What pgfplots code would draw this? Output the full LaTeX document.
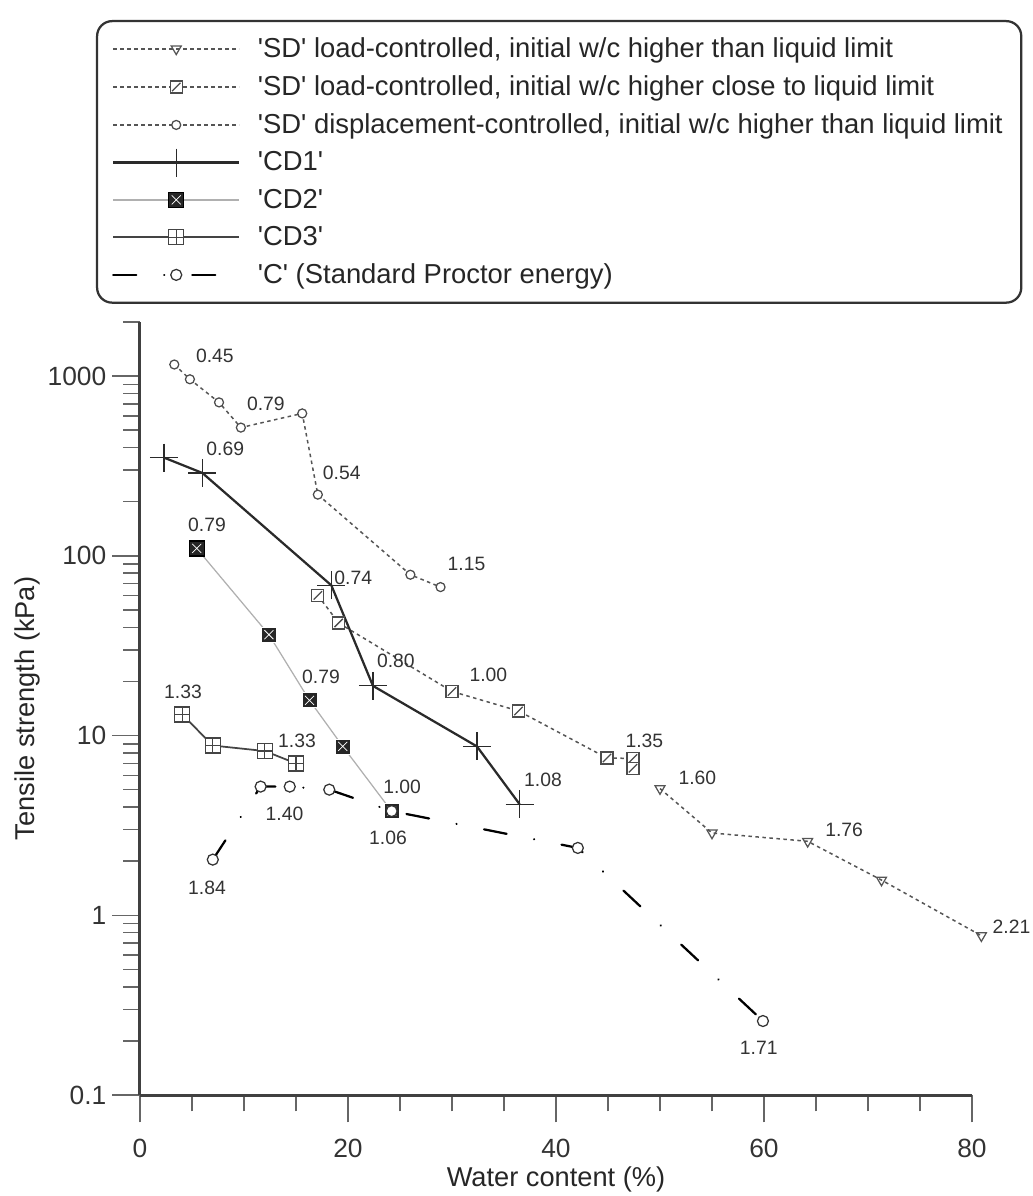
\documentclass[border=0pt]{standalone}
\usepackage{fontspec}
\setmainfont{Liberation Sans}
\usepackage{pgfplots}
\pgfplotsset{compat=1.18}
\usetikzlibrary{plotmarks}

\definecolor{sdc}{HTML}{555555}
\definecolor{cdone}{HTML}{2A2A2A}
\definecolor{cdtwo}{HTML}{B0B0B0}
\definecolor{cdthree}{HTML}{444444}
\definecolor{labc}{HTML}{333333}
\newcommand{\q}{\textquotesingle}

% square with a cross, dark fill
\pgfdeclareplotmark{boxx}{%
  \pgfpathrectangle{\pgfqpoint{-\pgfplotmarksize}{-\pgfplotmarksize}}{\pgfqpoint{2\pgfplotmarksize}{2\pgfplotmarksize}}%
  \pgfusepathqfillstroke
  \pgfsetstrokecolor{white}%
  \pgfsetlinewidth{0.15mm}%
  \pgfpathmoveto{\pgfqpoint{-0.6\pgfplotmarksize}{-0.6\pgfplotmarksize}}%
  \pgfpathlineto{\pgfqpoint{0.6\pgfplotmarksize}{0.6\pgfplotmarksize}}%
  \pgfpathmoveto{\pgfqpoint{-0.6\pgfplotmarksize}{0.6\pgfplotmarksize}}%
  \pgfpathlineto{\pgfqpoint{0.6\pgfplotmarksize}{-0.6\pgfplotmarksize}}%
  \pgfusepathqstroke
}
% square with a plus
\pgfdeclareplotmark{boxplus}{%
  \pgfpathrectangle{\pgfqpoint{-\pgfplotmarksize}{-\pgfplotmarksize}}{\pgfqpoint{2\pgfplotmarksize}{2\pgfplotmarksize}}%
  \pgfusepathqfillstroke
  \pgfpathmoveto{\pgfqpoint{-\pgfplotmarksize}{0pt}}%
  \pgfpathlineto{\pgfqpoint{\pgfplotmarksize}{0pt}}%
  \pgfpathmoveto{\pgfqpoint{0pt}{-\pgfplotmarksize}}%
  \pgfpathlineto{\pgfqpoint{0pt}{\pgfplotmarksize}}%
  \pgfusepathqstroke
}
% square with a slash
\pgfdeclareplotmark{boxslash}{%
  \pgfpathrectangle{\pgfqpoint{-\pgfplotmarksize}{-\pgfplotmarksize}}{\pgfqpoint{2\pgfplotmarksize}{2\pgfplotmarksize}}%
  \pgfusepathqfillstroke
  \pgfpathmoveto{\pgfqpoint{-0.7\pgfplotmarksize}{-0.7\pgfplotmarksize}}%
  \pgfpathlineto{\pgfqpoint{0.7\pgfplotmarksize}{0.7\pgfplotmarksize}}%
  \pgfusepathqstroke
}

\begin{document}
\begin{tikzpicture}
\useasboundingbox (-28mm,-20.2mm) rectangle (178.6mm,219mm);
\begin{axis}[
    at={(0,0)}, anchor=south west,
    scale only axis,
    width=166.4mm, height=154.6mm,
    ymode=log,
    xmin=0, xmax=80, ymin=0.1, ymax=2000,
    axis x line*=bottom, axis y line*=left,
    axis line style={line width=0.6mm, black!75},
    tick align=outside,
    major tick length=5.5mm, minor tick length=3.3mm,
    every tick/.style={line width=0.3mm, black!60},
    xtick={0,20,40,60,80},
    xticklabels={0,20,40,60,80},
    minor xtick={5,10,15,25,30,35,45,50,55,65,70,75},
    ytick={0.1,1,10,100,1000},
    yticklabels={0.1,1,10,100,1000},
    minor ytick={0.2,0.3,0.4,0.5,0.6,0.7,0.8,0.9,2,3,4,5,6,7,8,9,20,30,40,50,60,70,80,90,200,300,400,500,600,700,800,900,2000},
    ticklabel style={font=\fontsize{15}{18}\selectfont, text=black!80},
    xticklabel style={yshift=-2mm},
    label style={font=\fontsize{15.5}{18}\selectfont, text=black!85},
    xlabel={Water content (\%)},
    ylabel={Tensile strength (kPa)},
    xlabel style={at={(axis description cs:0.5,-0.1087)}, anchor=center},
    ylabel style={at={(axis description cs:-0.1358,0.5)}, anchor=center},
    clip=false,
    legend cell align=left,
    legend style={at={(axis description cs:-0.0529,1.3907)}, anchor=north west,
        draw=black!80, line width=0.45mm, rounded corners=3mm,
        font=\fontsize{15.6}{18}\selectfont, text=black!85,
        inner xsep=3mm, inner ysep=2.6mm, row sep=1.7mm},
    legend image code/.code={\draw[mark repeat=2,mark phase=2,#1] plot coordinates {(0mm,0mm) (12.6mm,0mm) (25.2mm,0mm)};
        \path (28mm,0mm);},
    sd/.style={sdc, line width=0.3mm, dash pattern=on 0.7mm off 0.7mm},
]
\addplot[sd, mark=triangle, mark size=1.15mm, mark options={solid, rotate=180, fill=white, draw=sdc, line width=0.25mm}]
  coordinates {(50.0,5.07) (55.0,2.87) (64.2,2.58) (71.3,1.57) (80.9,0.77)};
\addlegendentry{\q SD\q{} load-controlled, initial w/c higher than liquid limit}
\addplot[sd, mark=boxslash, mark size=1.2mm, mark options={solid, fill=white, draw=black!70, line width=0.25mm}]
  coordinates {(17.1,60.3) (19.1,42.3) (30.0,17.6) (36.4,13.7) (44.9,7.5) (47.4,7.46) (47.4,6.58)};
\addlegendentry{\q SD\q{} load-controlled, initial w/c higher close to liquid limit}
\addplot[sd, mark=*, mark size=0.9mm, mark options={solid, fill=white, draw=black!70, line width=0.25mm}]
  coordinates {(3.3,1160) (4.8,960) (7.6,714) (9.7,517) (15.6,620) (17.1,219) (26.0,78.5) (28.9,67)};
\addlegendentry{\q SD\q{} displacement-controlled, initial w/c higher than liquid limit}
\addplot[cdone, line width=0.45mm, mark=+, mark size=2.8mm, mark options={line width=0.25mm}]
  coordinates {(2.3,352) (6.0,289) (18.4,68.5) (22.4,18.9) (32.4,8.7) (36.5,4.15)};
\addlegendentry{\q CD1\q}
\addplot[cdtwo, line width=0.25mm, mark=boxx, mark size=1.5mm, mark options={fill=black!85, draw=black, line width=0.25mm}]
  coordinates {(5.45,110) (12.4,36.4) (16.3,15.7) (19.5,8.7) (24.2,3.79)};
\addlegendentry{\q CD2\q}
\addplot[cdthree, line width=0.35mm, mark=boxplus, mark size=1.5mm, mark options={fill=white, draw=cdthree, line width=0.25mm}]
  coordinates {(4.07,13.1) (6.99,8.8) (12.0,8.2) (15.0,7.0)};
\addlegendentry{\q CD3\q}
\addplot[black, line width=0.45mm, line cap=round, dash pattern=on 4.6mm off 5.6mm on 0.01mm off 5.6mm,
    mark=*, mark size=1.1mm, mark options={solid, fill=white, draw=black!80, line width=0.25mm}]
  coordinates {(7.0,2.04) (11.6,5.2) (14.4,5.2) (18.2,5.0) (24.2,3.8) (42.1,2.37) (59.9,0.258)};
\addlegendentry{\q C\q{} (Standard Proctor energy)}

\begin{scope}[every node/.style={font=\fontsize{11}{13}\selectfont, text=labc, inner sep=0pt}]
% SD displacement
\node at (axis cs:7.2,1288) {0.45};
\node at (axis cs:12.1,697) {0.79};
\node at (axis cs:19.4,288) {0.54};
\node at (axis cs:31.4,89.7) {1.15};
% CD1
\node at (axis cs:8.2,396) {0.69};
\node at (axis cs:20.5,75) {0.74};
\node at (axis cs:24.6,25.9) {0.80};
\node at (axis cs:38.75,5.64) {1.08};
% CD2
\node at (axis cs:6.44,148) {0.79};
\node at (axis cs:17.4,21.1) {0.79};
\node at (axis cs:25.2,5.15) {1.00};
\node at (axis cs:23.85,2.68) {1.06};
% CD3
\node at (axis cs:4.13,17.4) {1.33};
\node at (axis cs:15.1,9.29) {1.33};
% C
\node at (axis cs:13.9,3.65) {1.40};
\node at (axis cs:6.44,1.43) {1.84};
\node at (axis cs:59.5,0.182) {1.71};
% SD load-controlled
\node at (axis cs:33.5,21.9) {1.00};
\node at (axis cs:48.5,9.29) {1.35};
\node at (axis cs:53.6,5.78) {1.60};
\node at (axis cs:67.7,2.97) {1.76};
\node at (axis cs:83.8,0.858) {2.21};
\end{scope}
\end{axis}
\end{tikzpicture}
\end{document}
